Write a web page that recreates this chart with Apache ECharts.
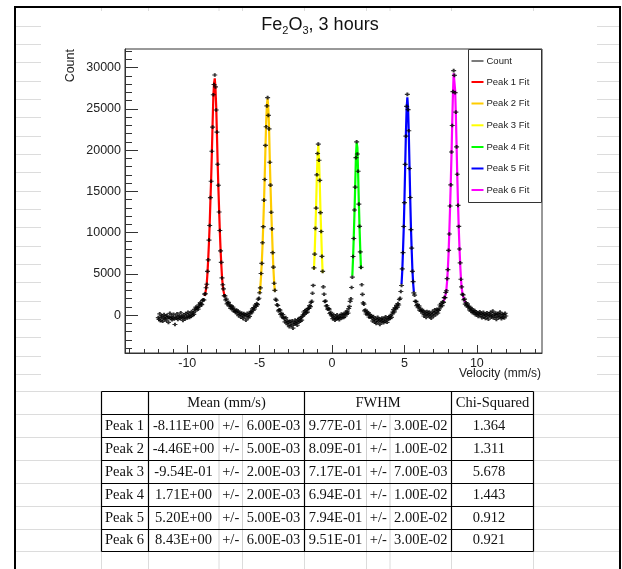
<!DOCTYPE html>
<html>
<head>
<meta charset="utf-8">
<script src="https://cdn.jsdelivr.net/npm/echarts@6/dist/echarts.min.js"></script>
<style>
html,body{margin:0;padding:0;background:#fff;}
#chart{width:622px;height:569px;}
</style>
</head>
<body>
<div id="chart"></div>
<script>
// Mössbauer spectrum: one count per velocity channel, channels 0.05 mm/s apart
const velocityStart = -12;
const velocityStep = 0.05;
const counts = [
  -310,-520,140,-680,-240,-90,-760,-380,60,-450,-170,-620,-20,-330,-890,-260,210,-410,-150,-560,
  -300,90,-470,-1150,-200,-380,160,-540,-230,-60,-420,280,-310,-140,-650,40,-250,-470,190,-120,
  -360,320,-90,-280,110,-180,420,-40,250,80,
  695,480,970,755,930,715,1250,1060,1500,1350,1260,1760,1850,1830,2530,2580,3310,3730,5290,6690,
  9090,10850,14240,16220,19850,22780,26700,27950,29100,27650,24850,22180,18280,15730,12490,10250,7780,6380,4500,3670,
  3170,2340,2330,1820,1930,1350,1480,1540,1090,1200,790,1090,810,980,500,690,435,
  380,610,150,470,-80,320,90,-260,240,-30,-420,180,-150,60,-610,-90,210,-340,30,-180,270,
  450,280,760,585,920,730,1210,1060,1380,1265,1920,2040,2700,3290,5040,6270,8770,10710,13930,16430,
  20560,22820,25350,26350,24210,22570,18520,15750,12460,10450,7570,5810,3860,2990,1910,1800,1250,1160,510,640,
  600,80,200,-220,70,-280,
  -450,-820,-310,-960,-640,-1180,-870,-1420,-760,-1050,-1290,-690,-1580,-930,-1120,-600,-1010,-780,-1240,-540,
  -880,-410,-730,-290,-620,-180,
  30,370,85,550,310,660,350,800,810,1150,1020,1530,1670,2640,3590,5720,7390,10510,12970,17000,
  19580,20720,18760,16320,12410,10130,7110,5300,3420,2530,1650,1700,1100,1130,710,770,725,190,330,10,
  -120,-430,60,-350,-610,-190,-470,20,-380,-250,-560,-80,-330,110,
  -320,70,-305,120,-125,350,135,470,230,800,1045,1660,1960,3340,4590,7100,9280,12730,15510,19080,
  21000,19520,17430,13450,10750,7650,5780,3670,2510,1480,1320,510,620,130,400,110,290,-240,65,-275,-65,
  -310,-720,-180,-540,-860,-390,-1010,-620,-270,-780,-470,-1130,-560,-820,-350,-690,-940,-430,-750,-210,
  -600,-880,-330,-510,-170,-420,-80,-290,120,
  360,650,390,895,745,1180,930,1380,1220,1890,2040,2850,3580,5600,7570,10730,13620,18260,21680,25300,
  26750,24900,22340,17760,14250,10360,8120,5300,4050,2680,2420,1660,1650,1140,1290,890,1105,585,830,510,580,
  230,540,-120,310,80,-290,420,120,-60,350,-210,190,-380,60,460,-150,280,640,30,390,710,240,560,
  740,1220,1005,1420,1145,1600,1540,2120,2110,2730,2950,4410,5510,7840,9830,13220,15780,19760,22980,27080,
  29630,29050,26960,24600,20390,17070,13290,10740,8010,6320,4340,3420,2520,2450,1860,1930,1320,1490,1120,1350,
  955,1080,620,845,505,790,280,525,285,550,40,375,70,
  260,-180,130,390,-90,210,-330,60,340,-220,110,-410,20,280,-160,-490,150,-60,320,-270,
  -20,470,-350,90,-140,230,-520,-80,180,-300,40,360,-190,-430,120,-250,70,-360,200,-110
];

// Fitted peak curves, sampled every 0.05 mm/s from each start velocity
const fitStep = 0.05;
const fitStarts = [-8.80, -5.00, -1.25, 1.40, 4.80, 7.70];
const peak1Fit = [2310,2670,3180,3900,5200,6900,8830,11000,13900,16500,19700,23200,26400,28100,28700,27400,25200,21900,18400,15400,12750,10140,7970,6140,4630,3600,2950,2510,2190];
const peak2Fit = [2560,3480,4790,6450,8470,10970,13730,16760,20180,23400,25500,26250,24900,22700,18860,15570,12680,10180,7720,5610,3980,2830];
const peak3Fit = [5500,7570,10260,13270,16780,19270,20600,18960,16060,12640,9950,7260,5090];
const peak4Fit = [4760,6860,9490,12430,15790,19300,20900,20300,17150,13690,10540,7810,5600];
const peak5Fit = [3770,5370,7780,10450,13920,17920,21930,25000,26400,25100,22030,18020,14020,10550,7880,5470,3870,2800];
const peak6Fit = [1690,1910,2200,2560,3150,4190,5670,7590,10110,12920,16030,19430,23280,26830,29300,29400,27280,24320,20620,16770,13510,10550,8180,6110,4480,3300,2710,2290,1970,1730,1550];
const peakFits = [peak1Fit, peak2Fit, peak3Fit, peak4Fit, peak5Fit, peak6Fit];
const peakNames = ['Peak 1 Fit','Peak 2 Fit','Peak 3 Fit','Peak 4 Fit','Peak 5 Fit','Peak 6 Fit'];
const peakColors = ['#ff0000','#ffcc00','#ffff00','#00ff00','#0000ff','#ff00ff'];

// Axis ticks
const xMajorTicks = [-10, -5, 0, 5, 10];
const xMinorTicks = [-14,-13,-12,-11,-10,-9,-8,-7,-6,-5,-4,-3,-2,-1,0,1,2,3,4,5,6,7,8,9,10,11,12,13,14];
const yMajorTicks = [0, 5000, 10000, 15000, 20000, 25000, 30000];
const yMinorTicks = [-4000,-3000,-2000,-1000,0,1000,2000,3000,4000,5000,6000,7000,8000,9000,10000,11000,12000,13000,14000,15000,16000,17000,18000,19000,20000,21000,22000,23000,24000,25000,26000,27000,28000,29000,30000,31000,32000];

// Fit results table
const peakLabels = ['Peak 1','Peak 2','Peak 3','Peak 4','Peak 5','Peak 6'];
const meanValues = ['-8.11E+00','-4.46E+00','-9.54E-01','1.71E+00','5.20E+00','8.43E+00'];
const meanErrors = ['6.00E-03','5.00E-03','2.00E-03','2.00E-03','5.00E-03','6.00E-03'];
const fwhmValues = ['9.77E-01','8.09E-01','7.17E-01','6.94E-01','7.94E-01','9.51E-01'];
const fwhmErrors = ['3.00E-02','1.00E-02','7.00E-03','1.00E-02','2.00E-02','3.00E-02'];
const chiSquared = ['1.364','1.311','5.678','1.443','0.912','0.921'];

const SANS = '"Liberation Sans", Arial, sans-serif';
const SERIF = '"Liberation Serif", "Times New Roman", serif';

const xMin = -14.3, xMax = 14.5;
const yMin = -4600, yMax = 32250;

const countPoints = counts.map((c, i) => [+(velocityStart + i * velocityStep).toFixed(2), c]);

const series = peakFits.map((vals, k) => ({
  type: 'line',
  name: peakNames[k],
  data: vals.map((v, i) => [+(fitStarts[k] + i * fitStep).toFixed(2), v]),
  showSymbol: false,
  symbol: 'none',
  lineStyle: { color: peakColors[k], width: 2.2 },
  z: 2,
  silent: true
}));
series.push({
  type: 'scatter',
  name: 'Count',
  data: countPoints,
  symbol: 'path://M0,4.2H10V5.8H0Z M3,2.5H7V7.5H3Z',
  symbolSize: [5, 3.6],
  itemStyle: { color: '#000' },
  z: 3,
  silent: true
});

// ---- static page decoration: sheet grid, border, legend, table ----
const G = [];
const gridGray = '#dcdcdc';
function hline(x1, x2, y, color, w) {
  G.push({ type: 'line', silent: true, shape: { x1, y1: y, x2, y2: y }, style: { stroke: color, lineWidth: w || 1 } });
}
function vline(x, y1, y2, color, w) {
  G.push({ type: 'line', silent: true, shape: { x1: x, y1, x2: x, y2 }, style: { stroke: color, lineWidth: w || 1 } });
}
function text(str, x, y, font, align, color, extra) {
  G.push(Object.assign({
    type: 'text', silent: true, x, y,
    style: { text: str, font, fill: color || '#111', align: align || 'left', textAlign: align || 'left',
             verticalAlign: 'middle', textVerticalAlign: 'middle' }
  }, extra || {}));
}

// spreadsheet grid lines around the embedded plot
for (let k = 0; k < 20; k++) {
  const y = Math.round(25.7 + 18.33 * k) + 0.5;
  hline(16, 41, y, gridGray);
  hline(597, 619, y, gridGray);
}
const colX = [101.5, 148.5, 219, 242.5, 304.5, 366.5, 390, 451.5, 533.5];
const rowY = [391.5, 414.5, 437.5, 460.5, 483.5, 506.5, 529.5, 551.5];
rowY.forEach(y => { hline(16, 101.5, y, gridGray); hline(533.5, 619, y, gridGray); });
colX.forEach(x => { vline(x, 551.5, 569, gridGray); vline(x, 8, 11, gridGray); });

// outer sheet border
hline(14, 621, 7, '#000', 2);
vline(15, 7, 569, '#000', 2);
vline(620, 7, 569, '#000', 2);

// table
[219, 242.5, 366.5, 390].forEach(x => vline(x, 414.5, 551.5, '#cfcfcf'));
rowY.forEach(y => hline(101.5, 533.5, y, '#000', 1.2));
[101.5, 148.5, 304.5, 451.5, 533.5].forEach(x => vline(x, 391.5, 551.5, '#000', 1.2));
const tfont = '14.5px ' + SERIF;
text('Mean (mm/s)', 226.5, 403, tfont, 'center');
text('FWHM', 378, 403, tfont, 'center');
text('Chi-Squared', 492.5, 403, tfont, 'center');
for (let r = 0; r < peakLabels.length; r++) {
  const y = (rowY[r + 1] + rowY[r + 2]) / 2;
  text(peakLabels[r], 105, y, tfont, 'left');
  text(meanValues[r], 183.5, y, tfont, 'center');
  text('+/-', 230.7, y, tfont, 'center');
  text(meanErrors[r], 273.5, y, tfont, 'center');
  text(fwhmValues[r], 335.5, y, tfont, 'center');
  text('+/-', 378.3, y, tfont, 'center');
  text(fwhmErrors[r], 420.8, y, tfont, 'center');
  text(chiSquared[r], 489, y, tfont, 'center');
}

// title with chemical subscripts
G.push({
  type: 'text', silent: true, x: 320, y: 25,
  style: {
    text: '{n|Fe}{s|2}{n|O}{s|3}{n|, 3 hours}',
    align: 'center', textAlign: 'center', verticalAlign: 'middle', textVerticalAlign: 'middle',
    rich: {
      n: { fontSize: 18, fontFamily: SANS, lineHeight: 22, fill: '#111', color: '#111' },
      s: { fontSize: 11, fontFamily: SANS, lineHeight: 8, verticalAlign: 'bottom', fill: '#111', color: '#111' }
    }
  }
});

// axis titles
text('Count', 70.5, 49, '12.5px ' + SANS, 'right', '#222', { rotation: Math.PI / 2 });
text('Velocity (mm/s)', 541, 374, '12px ' + SANS, 'right', '#222');

// legend box
G.push({ type: 'rect', silent: true, shape: { x: 468.5, y: 49.5, width: 73, height: 153 },
         style: { fill: '#fff', stroke: '#333', lineWidth: 1 }, z: 10 });
const legendNames = ['Count'].concat(peakNames);
const legendColors = ['#333'].concat(peakColors);
const legendY = [61, 82, 103.5, 125.3, 147, 168.5, 190];
legendNames.forEach((nm, k) => {
  G.push({ type: 'line', silent: true, z: 11, shape: { x1: 471.5, y1: legendY[k], x2: 483.5, y2: legendY[k] },
           style: { stroke: legendColors[k], lineWidth: k === 0 ? 1.3 : 2 } });
  G.push({ type: 'text', silent: true, z: 11, x: 486.5, y: legendY[k],
           style: { text: nm, font: '9.5px ' + SANS, fill: '#222', align: 'left', textAlign: 'left',
                    verticalAlign: 'middle', textVerticalAlign: 'middle' } });
});

const chart = echarts.init(document.getElementById('chart'), null, { renderer: 'canvas', width: 622, height: 569 });
const axisColor = '#333';
chart.setOption({
  animation: false,
  backgroundColor: '#fff',
  grid: { left: 125, top: 49, width: 417, height: 304, show: true, borderColor: axisColor, borderWidth: 1, backgroundColor: 'transparent' },
  xAxis: [
    {
      type: 'value', min: xMin, max: xMax, position: 'bottom',
      axisLine: { show: true, onZero: false, lineStyle: { color: axisColor, width: 1 } },
      axisTick: { show: true, inside: true, length: 8, customValues: xMajorTicks, lineStyle: { color: axisColor } },
      axisLabel: { show: true, customValues: xMajorTicks, color: '#222', fontSize: 12.5, fontFamily: SANS, margin: 4,
                   formatter: v => String(v) },
      splitLine: { show: false }
    },
    {
      type: 'value', min: xMin, max: xMax, position: 'bottom',
      axisLine: { show: false, onZero: false },
      axisTick: { show: true, inside: true, length: 4, customValues: xMinorTicks, lineStyle: { color: axisColor } },
      axisLabel: { show: false },
      splitLine: { show: false }
    }
  ],
  yAxis: [
    {
      type: 'value', min: yMin, max: yMax, position: 'left',
      axisLine: { show: true, onZero: false, lineStyle: { color: axisColor, width: 1 } },
      axisTick: { show: true, inside: true, length: 13, customValues: yMajorTicks, lineStyle: { color: axisColor } },
      axisLabel: { show: true, customValues: yMajorTicks, color: '#222', fontSize: 12.5, fontFamily: SANS, margin: 4,
                   formatter: v => String(v) },
      splitLine: { show: false }
    },
    {
      type: 'value', min: yMin, max: yMax, position: 'left',
      axisLine: { show: false, onZero: false },
      axisTick: { show: true, inside: true, length: 7, customValues: yMinorTicks, lineStyle: { color: axisColor } },
      axisLabel: { show: false },
      splitLine: { show: false }
    }
  ],
  series: series,
  graphic: { elements: G }
});
</script>
</body>
</html>
